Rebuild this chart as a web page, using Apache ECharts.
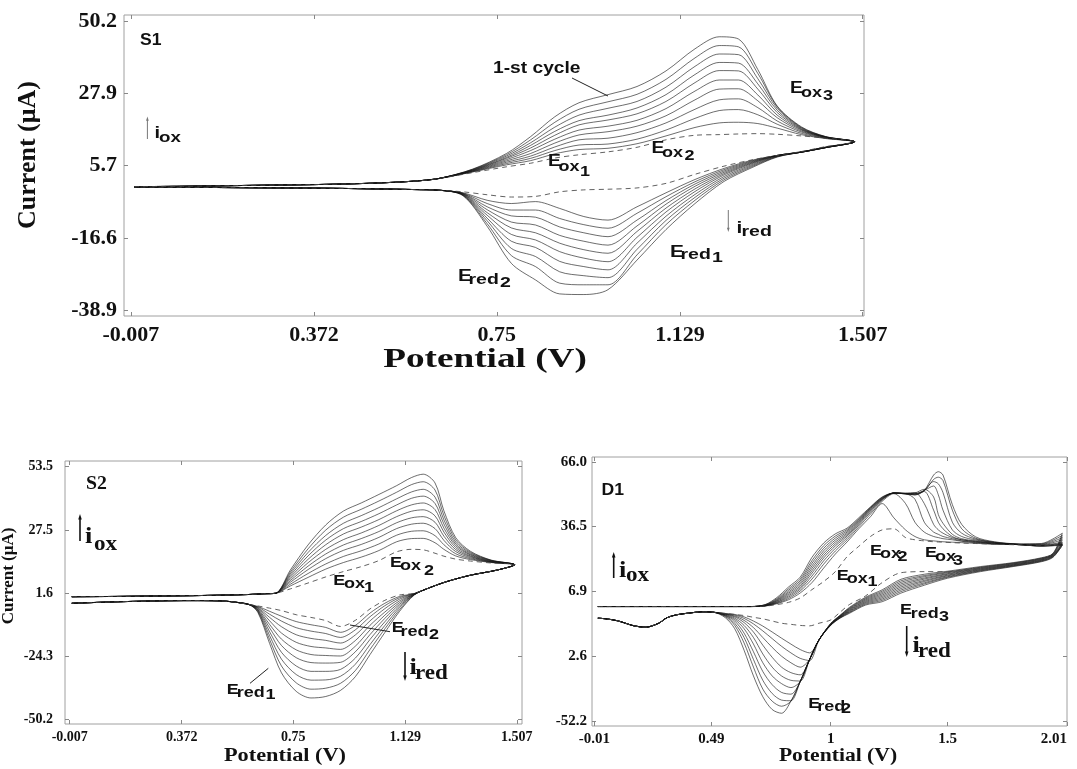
<!DOCTYPE html>
<html>
<head>
<meta charset="utf-8">
<script src="https://cdn.jsdelivr.net/npm/echarts@6.0.0/dist/echarts.min.js"></script>
<style>
html,body{margin:0;padding:0;background:#fff;}
#chart{width:1077px;height:769px;}
</style>
</head>
<body>
<div id="chart"></div>
<script>
// ---------------- S1 ----------------
const s1XTicks = [-0.007, 0.372, 0.75, 1.129, 1.507];
const s1XTickLabels = ['-0.007', '0.372', '0.75', '1.129', '1.507'];
const s1YTicks = [50.2, 27.9, 5.7, -16.6, -38.9];
const s1YTickLabels = ['50.2', '27.9', '5.7', '-16.6', '-38.9'];
const s1BaseUpV = [0.0, 0.1, 0.2, 0.3, 0.4, 0.5, 0.58];
const s1BaseUpI = [-0.8, -0.7, -0.5, -0.3, -0.1, 0.3, 0.9];
const s1UpV = [0.63, 0.70, 0.77, 0.82, 0.87, 0.92, 0.98, 1.04, 1.10, 1.16, 1.21, 1.25, 1.29, 1.33, 1.38, 1.43, 1.49];
const s1Up = [
  [1.7, 4.6, 9.4, 14.6, 20.7, 25.0, 27.5, 30.0, 34.8, 41.6, 45.3, 44.6, 35.2, 24.0, 17.6, 14.6, 13.0],
  [1.7, 4.5, 9.0, 13.6, 19.0, 23.0, 25.3, 27.6, 32.2, 38.8, 42.6, 42.2, 34.0, 23.8, 17.4, 14.6, 13.0],
  [1.7, 4.4, 8.6, 12.7, 17.5, 21.2, 23.3, 25.4, 29.8, 36.2, 40.0, 39.8, 32.4, 23.3, 17.2, 14.5, 13.0],
  [1.7, 4.3, 8.2, 11.9, 16.2, 19.5, 21.2, 23.4, 27.5, 33.7, 37.4, 37.2, 30.8, 22.7, 17.0, 14.5, 13.0],
  [1.7, 4.2, 7.9, 11.1, 15.0, 18.2, 19.7, 21.6, 25.4, 31.2, 34.9, 34.8, 29.2, 22.0, 16.8, 14.4, 13.0],
  [1.7, 4.1, 7.5, 10.3, 13.8, 16.6, 17.8, 19.6, 23.2, 28.6, 32.0, 32.0, 27.4, 21.2, 16.6, 14.4, 13.0],
  [1.7, 4.0, 7.1, 9.4, 12.6, 15.1, 16.1, 17.8, 21.0, 25.9, 29.2, 29.3, 25.6, 20.4, 16.3, 14.3, 13.0],
  [1.7, 3.9, 6.7, 8.6, 11.4, 13.6, 14.1, 15.8, 18.8, 23.0, 25.9, 26.2, 23.5, 19.4, 16.0, 14.2, 13.0],
  [1.7, 3.8, 6.3, 7.9, 10.3, 12.0, 12.3, 13.8, 16.6, 20.2, 22.6, 22.9, 21.3, 18.4, 15.6, 14.1, 13.0],
  [1.7, 3.7, 5.9, 7.2, 9.3, 10.6, 11.0, 12.4, 14.8, 17.4, 18.8, 19.0, 18.6, 17.2, 15.2, 14.0, 13.0]
];
const s1UpDashed = [1.7, 3.5, 5.3, 6.4, 8.0, 9.0, 9.9, 11.3, 13.6, 15.0, 15.2, 15.4, 15.5, 15.3, 14.8, 14.1, 13.0];
const s1LowV = [1.43, 1.38, 1.33, 1.28, 1.22, 1.16, 1.10, 1.04, 0.98, 0.93, 0.88, 0.83, 0.78, 0.73, 0.68, 0.63];
const s1Low = [
  [11.2, 9.8, 8.3, 5.2, 0.8, -6.0, -14.0, -23.4, -32.5, -34.0, -33.8, -29.5, -24.4, -13.0, -3.6, -1.9],
  [11.2, 9.8, 8.4, 5.5, 1.3, -5.0, -12.5, -21.8, -31.0, -31.0, -30.5, -25.4, -22.0, -12.2, -3.5, -1.9],
  [11.2, 9.8, 8.5, 5.8, 1.8, -4.1, -11.2, -20.1, -28.8, -28.2, -27.0, -22.3, -19.8, -11.3, -3.4, -1.9],
  [11.2, 9.8, 8.6, 6.1, 2.3, -3.2, -9.9, -18.2, -26.4, -25.4, -23.8, -19.5, -17.6, -10.5, -3.3, -1.9],
  [11.2, 9.8, 8.7, 6.4, 2.8, -2.3, -8.6, -16.4, -23.9, -22.8, -20.8, -17.2, -15.5, -9.6, -3.2, -1.9],
  [11.2, 9.8, 8.7, 6.6, 3.2, -1.5, -7.4, -14.6, -21.3, -20.2, -18.2, -15.0, -13.5, -8.8, -3.1, -1.9],
  [11.2, 9.8, 8.8, 6.8, 3.6, -0.7, -6.2, -12.9, -18.8, -17.6, -15.8, -12.6, -11.7, -7.9, -3.0, -1.9],
  [11.3, 9.9, 8.8, 7.0, 4.0, 0.0, -5.1, -11.1, -16.2, -15.0, -13.2, -10.2, -9.8, -7.0, -2.9, -1.9],
  [11.3, 9.9, 8.8, 7.2, 4.4, 0.7, -3.9, -9.0, -13.6, -12.5, -10.6, -8.0, -8.0, -6.0, -2.8, -1.9],
  [11.4, 9.9, 8.8, 7.4, 4.8, 1.4, -2.7, -7.0, -11.1, -10.0, -7.5, -5.4, -6.0, -5.0, -2.7, -1.9]
];
const s1LowDashed = [11.5, 10.0, 8.8, 7.5, 5.5, 3.0, 0.2, -1.2, -1.6, -1.8, -2.4, -3.8, -4.0, -3.3, -2.4, -1.9];
const s1BaseLowV = [0.58, 0.5, 0.4, 0.3, 0.2, 0.1, 0.0];
const s1BaseLowI = [-1.7, -1.5, -1.3, -1.2, -1.1, -1.0, -0.9];

// ---------------- S2 ----------------
const s2XTicks = [-0.007, 0.372, 0.75, 1.129, 1.507];
const s2XTickLabels = ['-0.007', '0.372', '0.75', '1.129', '1.507'];
const s2YTicks = [53.5, 27.5, 1.6, -24.3, -50.2];
const s2YTickLabels = ['53.5', '27.5', '1.6', '-24.3', '-50.2'];
const s2BaseUpV = [0.0, 0.15, 0.3, 0.45, 0.6, 0.65];
const s2BaseUpI = [0.2, 0.3, 0.5, 0.7, 1.1, 1.4];
const s2UpV = [0.69, 0.74, 0.80, 0.86, 0.92, 0.98, 1.04, 1.10, 1.15, 1.19, 1.23, 1.26, 1.30, 1.35, 1.42, 1.50];
const s2Up = [
  [1.6, 11.1, 21.4, 29.6, 35.3, 38.6, 42.1, 45.7, 49.0, 50.4, 46.8, 35.4, 24.4, 18.8, 15.2, 13.3],
  [1.6, 10.3, 19.8, 27.5, 32.8, 36.0, 39.4, 43.0, 46.1, 47.3, 43.9, 33.5, 23.5, 18.4, 15.1, 13.3],
  [1.6, 9.6, 18.3, 25.3, 30.3, 33.4, 36.7, 40.3, 43.1, 44.2, 41.0, 31.7, 22.6, 18.0, 15.0, 13.3],
  [1.6, 8.9, 16.9, 23.4, 28.1, 31.0, 34.2, 37.8, 40.5, 41.4, 38.4, 30.0, 21.8, 17.6, 14.9, 13.3],
  [1.6, 8.2, 15.5, 21.5, 25.9, 28.7, 31.8, 35.4, 37.8, 38.6, 35.9, 28.3, 21.1, 17.3, 14.7, 13.3],
  [1.6, 7.5, 14.1, 19.6, 23.6, 26.3, 29.4, 33.0, 35.2, 35.8, 33.3, 26.7, 20.3, 16.9, 14.6, 13.3],
  [1.6, 6.8, 12.7, 17.7, 21.4, 24.0, 26.9, 30.5, 32.5, 33.0, 30.7, 25.0, 19.5, 16.6, 14.5, 13.3],
  [1.6, 6.1, 11.3, 15.8, 19.2, 21.6, 24.5, 28.1, 29.9, 30.3, 28.1, 23.3, 18.7, 16.2, 14.4, 13.3],
  [1.6, 5.3, 9.7, 13.6, 16.7, 19.0, 21.8, 25.4, 27.0, 27.2, 25.2, 21.5, 17.8, 15.8, 14.3, 13.3],
  [1.6, 4.6, 8.1, 11.5, 14.2, 16.4, 19.1, 22.7, 24.0, 24.1, 22.3, 19.6, 16.9, 15.4, 14.2, 13.3]
];
const s2UpDashed = [1.6, 3.4, 5.8, 8.3, 10.5, 12.5, 15.0, 18.6, 19.6, 19.4, 18.0, 16.8, 15.6, 14.8, 14.0, 13.3];
const s2LowV = [1.44, 1.35, 1.27, 1.21, 1.16, 1.11, 1.06, 1.01, 0.96, 0.91, 0.86, 0.81, 0.76, 0.71, 0.67, 0.63, 0.60];
const s2Low = [
  [11.1, 9.0, 6.4, 3.8, 0.9, -5.8, -14.5, -23.5, -32.6, -38.2, -40.7, -41.3, -38.6, -31.0, -19.0, -6.2, -3.0],
  [11.1, 9.0, 6.4, 3.8, 1.0, -5.1, -13.0, -21.4, -30.1, -35.3, -37.3, -37.7, -35.1, -28.2, -17.4, -5.9, -3.0],
  [11.1, 9.0, 6.4, 3.8, 1.1, -4.3, -11.6, -19.4, -27.5, -32.4, -33.9, -34.0, -31.7, -25.4, -15.8, -5.6, -3.0],
  [11.1, 9.0, 6.4, 3.8, 1.1, -3.6, -10.1, -17.3, -25.0, -29.6, -30.4, -30.4, -28.2, -22.6, -14.2, -5.3, -3.0],
  [11.1, 9.0, 6.4, 3.8, 1.2, -2.9, -8.7, -15.3, -22.4, -26.7, -27.0, -26.8, -24.8, -19.8, -12.6, -5.1, -3.0],
  [11.1, 9.0, 6.4, 3.8, 1.3, -2.2, -7.4, -13.4, -20.1, -24.1, -23.9, -23.5, -21.6, -17.2, -11.2, -4.8, -3.0],
  [11.1, 9.0, 6.4, 3.8, 1.3, -1.5, -6.1, -11.5, -17.8, -21.4, -20.8, -20.2, -18.5, -14.7, -9.7, -4.5, -3.0],
  [11.1, 9.0, 6.4, 3.8, 1.4, -0.8, -4.7, -9.7, -15.5, -18.8, -17.7, -16.9, -15.4, -12.1, -8.3, -4.3, -3.0],
  [11.1, 9.0, 6.4, 3.8, 1.5, -0.2, -3.5, -8.0, -13.4, -16.5, -14.9, -13.9, -12.5, -9.8, -7.0, -4.0, -3.0],
  [11.1, 9.0, 6.4, 3.8, 1.5, 0.3, -2.5, -6.5, -11.6, -14.4, -12.4, -11.3, -10.0, -7.8, -5.8, -3.8, -3.0]
];
const s2LowDashed = [11.1, 9.0, 6.4, 3.8, 1.6, 0.9, -1.3, -4.8, -9.5, -12.0, -9.6, -8.3, -7.2, -5.5, -4.5, -3.6, -3.0];
const s2BaseLowV = [0.55, 0.5, 0.4, 0.3, 0.15, 0.0];
const s2BaseLowI = [-2.0, -1.5, -1.4, -1.5, -1.9, -2.5];

// ---------------- D1 ----------------
const d1XTicks = [-0.01, 0.49, 1, 1.5, 2.01];
const d1XTickLabels = ['-0.01', '0.49', '1', '1.5', '2.01'];
const d1YTicks = [66.0, 36.5, 6.9, -22.6, -52.2];
const d1YTickLabels = ['66.0', '36.5', '6.9', '2.6', '-52.2'];
const d1BaseUpV = [0.005, 0.3, 0.6];
const d1BaseUpI = [0.1, 0.1, 0.1];
const d1UpV = [0.66, 0.72, 0.77, 0.82, 0.87, 0.92, 0.97, 1.02, 1.07, 1.12, 1.17, 1.22, 1.27, 1.32, 1.36, 1.40, 1.44, 1.46, 1.48, 1.52, 1.56, 1.62, 1.70, 1.80, 1.90, 1.99];
const d1Up = [
  [0.1, 1.0, 4.2, 9.0, 13.5, 22.5, 29.0, 33.2, 35.8, 40.5, 45.5, 50.0, 51.8, 51.5, 50.9, 53.0, 60.0, 61.5, 60.0, 46.5, 37.5, 31.8, 29.6, 28.5, 27.6, 28.0],
  [0.1, 0.9, 3.7, 8.2, 12.6, 21.0, 27.8, 32.2, 35.2, 40.0, 45.2, 49.8, 51.8, 51.4, 51.0, 52.8, 58.0, 59.0, 57.5, 44.0, 35.5, 31.2, 29.4, 28.4, 27.6, 28.2],
  [0.1, 0.8, 3.3, 7.5, 11.8, 19.8, 26.6, 31.3, 34.6, 39.6, 45.0, 49.6, 51.8, 51.4, 51.2, 53.0, 57.0, 56.0, 52.0, 38.5, 33.5, 30.8, 29.3, 28.4, 27.7, 28.4],
  [0.1, 0.7, 3.0, 6.8, 11.0, 18.6, 25.5, 30.4, 34.0, 39.2, 44.7, 49.4, 51.8, 51.5, 51.5, 53.0, 55.0, 51.0, 44.0, 35.0, 32.0, 30.4, 29.2, 28.3, 27.8, 28.6],
  [0.1, 0.6, 2.7, 6.2, 10.2, 17.5, 24.4, 29.5, 33.4, 38.8, 44.4, 49.2, 51.8, 51.5, 51.8, 53.5, 50.0, 42.0, 38.0, 33.0, 31.0, 30.0, 29.0, 28.3, 27.9, 29.0],
  [0.1, 0.5, 2.4, 5.6, 9.4, 16.4, 23.3, 28.6, 32.8, 38.3, 44.0, 49.0, 51.8, 51.6, 51.5, 52.5, 44.0, 38.5, 35.5, 32.0, 30.5, 29.8, 28.9, 28.3, 28.0, 29.5],
  [0.1, 0.5, 2.1, 5.0, 8.7, 15.3, 22.2, 27.7, 32.2, 37.8, 43.6, 48.8, 51.8, 51.8, 52.0, 47.0, 37.5, 35.0, 33.5, 31.5, 30.5, 29.6, 28.8, 28.4, 28.2, 30.5],
  [0.1, 0.4, 1.9, 4.4, 8.0, 14.0, 20.9, 26.6, 31.4, 37.2, 43.0, 48.5, 51.8, 51.5, 49.0, 38.5, 34.0, 33.0, 32.0, 31.0, 30.0, 29.4, 28.7, 28.4, 28.4, 31.5],
  [0.1, 0.4, 1.6, 3.8, 7.2, 12.6, 19.4, 25.4, 30.5, 36.4, 42.2, 48.0, 51.5, 47.0, 38.5, 34.0, 32.0, 31.5, 31.0, 30.5, 29.8, 29.2, 28.6, 28.5, 28.6, 32.5],
  [0.1, 0.3, 1.4, 3.2, 6.3, 11.0, 17.6, 24.0, 29.5, 35.5, 41.0, 47.0, 40.5, 35.0, 32.0, 30.5, 30.0, 29.8, 29.6, 29.4, 29.2, 28.9, 28.5, 28.6, 28.8, 33.5]
];
const d1UpDashed = [0.1, 0.3, 1.0, 2.0, 4.0, 7.8, 11.5, 16.0, 22.8, 27.5, 32.0, 35.0, 35.5, 31.5, 30.5, 30.0, 29.6, 29.5, 29.4, 29.2, 29.0, 28.8, 28.5, 28.2, 28.0, 28.0];
const d1LowV = [1.95, 1.90, 1.78, 1.64, 1.50, 1.40, 1.30, 1.22, 1.15, 1.08, 1.04, 1.00, 0.95, 0.91, 0.87, 0.83, 0.79, 0.75, 0.71, 0.67, 0.63, 0.59, 0.55, 0.50];
const d1Low = [
  [22.5, 20.5, 18.3, 16.0, 13.0, 9.8, 6.2, 2.3, 0.8, -3.0, -5.2, -8.5, -15.1, -24.0, -34.0, -43.0, -48.5, -46.8, -41.0, -31.5, -19.8, -10.0, -5.0, -2.5],
  [22.7, 20.7, 18.5, 16.3, 13.4, 10.4, 6.9, 2.9, 1.2, -2.7, -5.1, -8.4, -15.1, -24.0, -34.0, -43.0, -45.3, -43.0, -37.5, -27.5, -16.5, -8.5, -4.5, -2.5],
  [22.9, 20.9, 18.7, 16.5, 13.7, 10.9, 7.6, 3.5, 1.6, -2.4, -4.9, -8.3, -15.1, -24.0, -34.0, -42.8, -42.5, -39.5, -33.5, -24.0, -14.0, -7.5, -4.2, -2.5],
  [23.1, 21.1, 18.9, 16.8, 14.1, 11.5, 8.3, 4.1, 2.0, -2.1, -4.8, -8.2, -15.1, -24.0, -34.0, -39.8, -39.0, -35.5, -29.5, -20.5, -12.0, -6.5, -4.0, -2.5],
  [23.3, 21.3, 19.1, 17.0, 14.4, 12.0, 9.0, 4.7, 2.4, -1.8, -4.6, -8.1, -15.1, -24.0, -34.0, -36.8, -35.0, -31.5, -25.5, -17.0, -10.0, -5.8, -3.8, -2.5],
  [23.5, 21.5, 19.3, 17.3, 14.8, 12.6, 9.7, 5.3, 2.8, -1.5, -4.5, -8.0, -15.1, -24.0, -33.8, -33.5, -31.5, -27.5, -21.5, -14.0, -8.5, -5.2, -3.6, -2.5],
  [23.7, 21.7, 19.5, 17.5, 15.1, 13.1, 10.4, 5.9, 3.2, -1.2, -4.3, -7.9, -15.1, -24.0, -31.0, -30.0, -27.5, -23.0, -17.5, -11.5, -7.2, -4.6, -3.4, -2.5],
  [23.9, 21.9, 19.7, 17.8, 15.5, 13.7, 11.1, 6.5, 3.6, -0.9, -4.2, -7.8, -15.1, -24.0, -27.5, -25.5, -22.5, -18.5, -14.0, -9.5, -6.2, -4.2, -3.3, -2.5],
  [24.1, 22.1, 19.9, 18.0, 15.8, 14.2, 11.8, 7.1, 4.0, -0.6, -4.0, -7.7, -15.1, -24.5, -23.5, -21.0, -18.0, -14.5, -11.0, -7.8, -5.3, -3.8, -3.2, -2.5],
  [24.3, 22.3, 20.1, 18.3, 16.2, 14.8, 12.5, 7.7, 4.4, -0.3, -3.9, -7.6, -15.1, -21.0, -19.5, -17.0, -14.3, -11.5, -8.8, -6.5, -4.6, -3.5, -3.1, -2.5]
];
const d1LowDashed = [23.0, 21.5, 19.5, 17.5, 16.0, 16.0, 15.5, 11.0, 5.0, 1.0, -2.5, -6.0, -7.5, -8.7, -8.5, -8.0, -7.5, -6.5, -5.5, -4.8, -4.0, -3.5, -3.0, -2.5];
const d1BaseLowV = [0.45, 0.40, 0.34, 0.30, 0.265, 0.21, 0.16, 0.09, 0.04, 0.005];
const d1BaseLowI = [-2.3, -2.8, -3.7, -5.0, -7.5, -9.3, -8.7, -6.4, -5.5, -5.2];

// ---------------- build ----------------
const SERIF = '"Liberation Serif", "Times New Roman", serif';
const SANS = '"Liberation Sans", Arial, sans-serif';

function loop(bUV, bUI, uV, u, lV, l, bLV, bLI) {
  const pts = [];
  bUV.forEach((v, j) => pts.push([v, bUI[j]]));
  uV.forEach((v, j) => pts.push([v, u[j]]));
  lV.forEach((v, j) => pts.push([v, l[j]]));
  bLV.forEach((v, j) => pts.push([v, bLI[j]]));
  return pts;
}
function fmt(ticks, labels) {
  return function (val) {
    for (let i = 0; i < ticks.length; i++) if (Math.abs(ticks[i] - val) < 1e-6) return labels[i];
    return '';
  };
}

const panels = [
  {grid: {left: 124, top: 15, width: 740, height: 301}, xr: [-0.0213, 1.5096], yr: [-40.6, 52.0],
   xt: s1XTicks, xl: s1XTickLabels, yt: s1YTicks, yl: s1YTickLabels, fs: 22, xm: 8, ym: 7,
   d: [s1BaseUpV, s1BaseUpI, s1UpV, s1Up, s1UpDashed, s1LowV, s1Low, s1LowDashed, s1BaseLowV, s1BaseLowI]},
  {grid: {left: 65, top: 461, width: 457, height: 263}, xr: [-0.023, 1.5245], yr: [-51.97, 55.8],
   xt: s2XTicks, xl: s2XTickLabels, yt: s2YTicks, yl: s2YTickLabels, fs: 14, xm: 6, ym: 12,
   d: [s2BaseUpV, s2BaseUpI, s2UpV, s2Up, s2UpDashed, s2LowV, s2Low, s2LowDashed, s2BaseLowV, s2BaseLowI]},
  {grid: {left: 592, top: 457, width: 475, height: 269}, xr: [-0.02, 2.01], yr: [-54.3, 68.2],
   xt: d1XTicks, xl: d1XTickLabels, yt: d1YTicks, yl: d1YTickLabels, fs: 15, xm: 6, ym: 5, alignMax: true,
   d: [d1BaseUpV, d1BaseUpI, d1UpV, d1Up, d1UpDashed, d1LowV, d1Low, d1LowDashed, d1BaseLowV, d1BaseLowI]}
];

const grids = [], xAxes = [], yAxes = [], series = [];
panels.forEach((p, pi) => {
  grids.push(Object.assign({show: true, borderColor: '#a0a0a0', borderWidth: 1, containLabel: false}, p.grid));
  const lblStyle = {fontFamily: SERIF, fontWeight: 'bold', fontSize: p.fs, color: '#111'};
  const tick = {show: true, inside: true, length: 4, lineStyle: {color: '#888', width: 1}};
  const line = {show: false, onZero: false};
  xAxes.push({gridIndex: pi, type: 'value', position: 'bottom', min: p.xr[0], max: p.xr[1],
    axisLine: line, splitLine: {show: false},
    axisTick: Object.assign({customValues: p.xt}, tick),
    axisLabel: Object.assign({customValues: p.xt, formatter: fmt(p.xt, p.xl), margin: p.xm,
      alignMaxLabel: p.alignMax ? 'right' : null}, lblStyle)});
  xAxes.push({gridIndex: pi, type: 'value', position: 'top', min: p.xr[0], max: p.xr[1],
    axisLine: line, splitLine: {show: false},
    axisTick: Object.assign({customValues: p.xt}, tick), axisLabel: {show: false}});
  yAxes.push({gridIndex: pi, type: 'value', position: 'left', min: p.yr[0], max: p.yr[1],
    axisLine: line, splitLine: {show: false},
    axisTick: Object.assign({customValues: p.yt}, tick),
    axisLabel: Object.assign({customValues: p.yt, formatter: fmt(p.yt, p.yl), margin: p.ym}, lblStyle)});
  yAxes.push({gridIndex: pi, type: 'value', position: 'right', min: p.yr[0], max: p.yr[1],
    axisLine: line, splitLine: {show: false},
    axisTick: Object.assign({customValues: p.yt}, tick), axisLabel: {show: false}});
  const [bUV, bUI, uV, up, upD, lV, low, lowD, bLV, bLI] = p.d;
  up.forEach((u, k) => {
    series.push({type: 'line', xAxisIndex: pi * 2, yAxisIndex: pi * 2, showSymbol: false, smooth: 0.3,
      silent: true, animation: false,
      lineStyle: {color: 'rgba(20,20,20,0.62)', width: 1},
      data: loop(bUV, bUI, uV, u, lV, low[k], bLV, bLI)});
  });
  series.push({type: 'line', xAxisIndex: pi * 2, yAxisIndex: pi * 2, showSymbol: false, smooth: 0.3,
    silent: true, animation: false,
    lineStyle: {color: 'rgba(70,70,70,0.85)', width: 1, type: [5, 4]},
    data: loop(bUV, bUI, uV, upD, lV, lowD, bLV, bLI)});
});

// ---------------- annotations ----------------
const G = [];
function t(x, y, s, size, fam, o) {
  o = o || {};
  G.push({type: 'text', x: x, y: y, silent: true, z: 100,
    scaleX: o.sx || 1, rotation: o.rot || 0,
    style: {text: s, font: 'bold ' + size + 'px ' + fam, fill: o.fill || '#111',
      textAlign: o.align || 'left', textVerticalAlign: 'middle'}});
}
function ln(x1, y1, x2, y2, c, w) {
  G.push({type: 'line', silent: true, z: 100, shape: {x1: x1, y1: y1, x2: x2, y2: y2}, style: {stroke: c || '#111', lineWidth: w || 1}});
}
function arrow(x, y1, y2, c, w, h) {
  const d = y2 > y1 ? -1 : 1;
  ln(x, y1, x, y2 + d * h, c, w);
  G.push({type: 'polygon', silent: true, z: 100, shape: {points: [[x, y2], [x - h * 0.45, y2 + d * h * 1.4], [x + h * 0.45, y2 + d * h * 1.4]]},
    style: {fill: c || '#111'}});
}
function elab(parts, size, fam, sx) {
  parts.forEach(pt => t(pt[0], pt[1], pt[2], pt[3] || size, fam, {sx: sx}));
}

// S1
t(140, 41, 'S1', 16, SANS, {sx: 1.1});
t(493, 68.5, '1-st cycle', 16, SANS, {sx: 1.2});
ln(572, 78, 608, 96, '#222', 1);
elab([[790, 89, 'E', 16], [801, 92.5, 'ox'], [823, 96, '3']], 15, SANS, 1.2);
elab([[548, 161.7, 'E', 16], [558.5, 166.5, 'ox'], [580, 171.5, '1']], 15, SANS, 1.2);
elab([[651.5, 149, 'E', 16], [662, 153, 'ox'], [684.5, 156, '2']], 15, SANS, 1.2);
elab([[670, 252.5, 'E', 16], [680.5, 255, 'red'], [712, 257.5, '1']], 15, SANS, 1.3);
elab([[458, 277, 'E', 16], [468.5, 280, 'red'], [500, 282.5, '2']], 15, SANS, 1.3);
arrow(728.3, 210, 232, '#777', 1, 3);
elab([[736.5, 229, 'i', 16], [741.5, 232, 'red']], 15, SANS, 1.3);
arrow(147.4, 139, 116.5, '#777', 1, 3);
elab([[154.5, 134, 'i', 16], [159, 137.5, 'ox']], 15, SANS, 1.25);
t(485, 360, 'Potential (V)', 28, SERIF, {sx: 1.33, align: 'center'});
t(28, 155, 'Current (μA)', 26, SERIF, {rot: Math.PI / 2, align: 'center'});

// S2
t(86, 484.5, 'S2', 18, SERIF, {sx: 1.1});
arrow(80, 541, 514, '#111', 1.6, 4);
elab([[85, 537, 'i', 24], [94, 545, 'ox']], 21, SERIF, 1.1);
elab([[333.3, 581.3, 'E'], [344, 584, 'ox'], [364, 588, '1']], 15, SANS, 1.2);
elab([[390, 563.3, 'E'], [400, 566, 'ox'], [424, 570.5, '2']], 15, SANS, 1.2);
elab([[391.7, 627.5, 'E'], [400.5, 631.7, 'red'], [429, 635.3, '2']], 15, SANS, 1.2);
ln(350, 625, 390, 631.7, '#222', 1);
elab([[226.7, 690, 'E'], [236.7, 693.3, 'red'], [265.5, 695, '1']], 15, SANS, 1.2);
ln(250, 683.3, 268.3, 668.3, '#222', 1);
arrow(405, 652, 681, '#111', 1.6, 4);
elab([[409.5, 668, 'i', 24], [415, 673.5, 'red']], 21, SERIF, 1.1);
t(285, 756, 'Potential (V)', 18, SERIF, {sx: 1.24, align: 'center'});
t(9, 576, 'Current (μA)', 17, SERIF, {rot: Math.PI / 2, align: 'center'});

// D1
t(601.5, 490.8, 'D1', 16, SANS, {sx: 1.1});
arrow(613.7, 578, 552, '#111', 1.6, 4);
elab([[619, 571, 'i', 24], [626, 576, 'ox']], 21, SERIF, 1.1);
elab([[836.7, 576, 'E'], [846.7, 578.7, 'ox'], [867.5, 582, '1']], 15, SANS, 1.2);
elab([[870, 551.3, 'E'], [880, 554, 'ox'], [897.5, 557, '2']], 15, SANS, 1.2);
elab([[925, 553.3, 'E'], [935, 556.7, 'ox'], [953, 561, '3']], 15, SANS, 1.2);
elab([[900, 609.5, 'E'], [910.7, 613.8, 'red'], [939, 617.2, '3']], 15, SANS, 1.2);
arrow(906.7, 626, 657, '#111', 1.6, 4);
elab([[912.5, 646, 'i', 24], [918, 651.7, 'red']], 21, SERIF, 1.1);
elab([[808.3, 703.7, 'E'], [817.3, 706.7, 'red'], [841, 708.7, '2']], 15, SANS, 1.2);
t(838, 756, 'Potential (V)', 18, SERIF, {sx: 1.2, align: 'center'});

const chart = echarts.init(document.getElementById('chart'), null, {renderer: 'canvas'});
chart.setOption({
  animation: false,
  backgroundColor: '#fff',
  grid: grids, xAxis: xAxes, yAxis: yAxes, series: series, graphic: G
});
</script>
</body>
</html>
